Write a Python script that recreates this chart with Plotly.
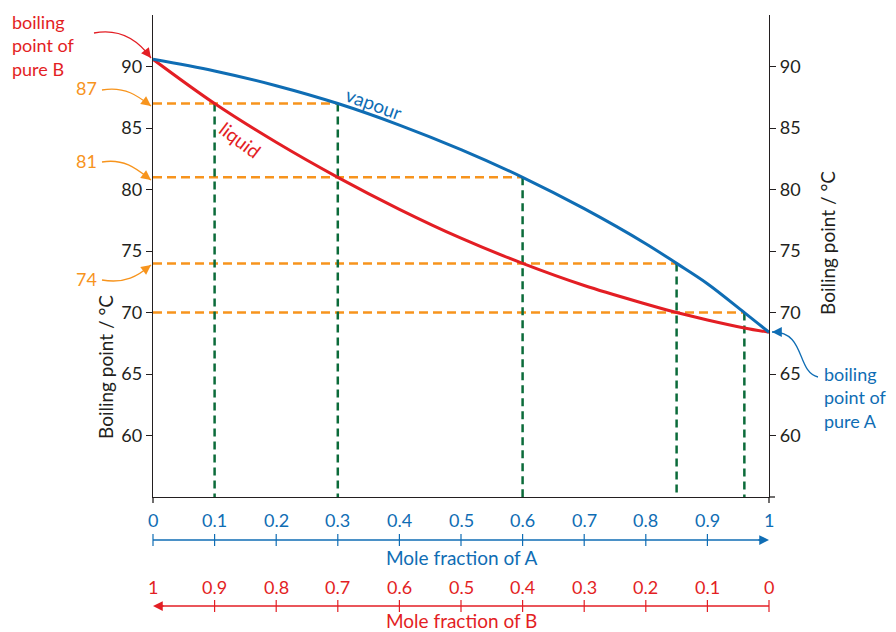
import plotly.graph_objects as go

# ---------------- data ----------------
mole_frac_A = [0, 0.1, 0.2, 0.3, 0.4, 0.5, 0.6, 0.7, 0.8, 0.85, 0.9, 0.96, 1.0]
liquid_bp = [90.6, 87.0, 83.85, 81.0, 78.4, 76.05, 74.0, 72.2, 70.7, 70.0, 69.4, 68.75, 68.4]
vapour_bp = [90.6, 89.65, 88.45, 87.0, 85.25, 83.25, 81.0, 78.45, 75.6, 74.0, 72.35, 70.0, 68.4]

tie_temps = [87, 81, 74, 70]
tie_liquid_x = [0.1, 0.3, 0.6, 0.85]
tie_vapour_x = [0.3, 0.6, 0.85, 0.96]

y_ticks = [60, 65, 70, 75, 80, 85, 90]
scale_positions = [0, 0.1, 0.2, 0.3, 0.4, 0.5, 0.6, 0.7, 0.8, 0.9, 1.0]
scale_A_labels = ["0", "0.1", "0.2", "0.3", "0.4", "0.5", "0.6", "0.7", "0.8", "0.9", "1"]
scale_B_labels = ["1", "0.9", "0.8", "0.7", "0.6", "0.5", "0.4", "0.3", "0.2", "0.1", "0"]
y_min, y_max = 55, 94.2

# ---------------- style ----------------
FONT = "Lato"
DARK = "#231f20"
BLUE = "#0f6db4"
RED = "#e31e24"
ORANGE = "#f7941d"
GREEN = "#0b6b3a"

W, H = 896, 632
ML, MR, MT, MB = 153, 127, 15, 135
PW, PH = W - ML - MR, H - MT - MB


def px(x, y):
    """pixel -> paper coords"""
    return (x - ML) / PW, (H - MB - y) / PH


fig = go.Figure()

# dashed tie lines
for t, xv in zip(tie_temps, tie_vapour_x):
    fig.add_trace(go.Scatter(x=[0, xv], y=[t, t], mode="lines",
                             line=dict(color=ORANGE, width=2.5, dash="9px,5px"),
                             hoverinfo="skip", showlegend=False))
green_x = [tie_liquid_x[0]] + tie_vapour_x
green_top = [tie_temps[0]] + tie_temps
for xg, tg in zip(green_x, green_top):
    fig.add_trace(go.Scatter(x=[xg, xg], y=[tg, y_min], mode="lines",
                             line=dict(color=GREEN, width=2.5, dash="8px,5px"),
                             hoverinfo="skip", showlegend=False))

# curves
fig.add_trace(go.Scatter(x=mole_frac_A, y=liquid_bp, mode="lines",
                         line=dict(color=RED, width=3, shape="spline", smoothing=1.0),
                         name="liquid", showlegend=False))
fig.add_trace(go.Scatter(x=mole_frac_A, y=vapour_bp, mode="lines",
                         line=dict(color=BLUE, width=3, shape="spline", smoothing=1.0),
                         name="vapour", showlegend=False))
# invisible trace for right axis
fig.add_trace(go.Scatter(x=[0], y=[y_min], yaxis="y2", mode="markers",
                         marker=dict(opacity=0), hoverinfo="skip", showlegend=False))

shapes = []
annotations = []


def label(xp, yp, text, color, size, angle=0, xanchor="center", align="center"):
    annotations.append(dict(x=xp, y=yp, xref="paper", yref="paper", text=text,
                            xanchor=xanchor, yanchor="middle", textangle=angle,
                            align=align, showarrow=False,
                            font=dict(family=FONT, size=size, color=color)))


# small axis-line overhangs at the corners
for xx in (0, 1):
    shapes.append(dict(type="line", xref="paper", yref="paper", x0=xx, x1=xx,
                       y0=0, y1=px(0, 503)[1], line=dict(color=DARK, width=1.3)))
shapes.append(dict(type="line", xref="paper", yref="paper", x0=1, x1=px(775, 0)[0],
                   y0=0, y1=0, line=dict(color=DARK, width=1.3)))

# ---------- bottom scales ----------
yA_lab, yA_line, yA_title = px(0, 520)[1], px(0, 540)[1], px(0, 557)[1]
yB_lab, yB_line, yB_title = px(0, 587)[1], px(0, 606)[1], px(0, 620)[1]
tick_half = 6 / PH

for p, la, lb in zip(scale_positions, scale_A_labels, scale_B_labels):
    label(p, yA_lab, la, BLUE, 18)
    label(p, yB_lab, lb, RED, 18)
    if p < 1:
        shapes.append(dict(type="line", xref="paper", yref="paper", x0=p, x1=p,
                           y0=yA_line - tick_half, y1=yA_line + tick_half,
                           line=dict(color=BLUE, width=1.2)))
    if p > 0:
        shapes.append(dict(type="line", xref="paper", yref="paper", x0=p, x1=p,
                           y0=yB_line - tick_half, y1=yB_line + tick_half,
                           line=dict(color=RED, width=1.2)))

shapes.append(dict(type="line", xref="paper", yref="paper", x0=0, x1=0.99,
                   y0=yA_line, y1=yA_line, line=dict(color=BLUE, width=1.5)))
shapes.append(dict(type="line", xref="paper", yref="paper", x0=0.01, x1=1,
                   y0=yB_line, y1=yB_line, line=dict(color=RED, width=1.5)))
annotations.append(dict(x=1, y=yA_line, xref="paper", yref="paper", text="",
                        showarrow=True, ax=-12, ay=0, arrowhead=2, arrowsize=1.3,
                        arrowwidth=1.5, arrowcolor=BLUE))
annotations.append(dict(x=0, y=yB_line, xref="paper", yref="paper", text="",
                        showarrow=True, ax=12, ay=0, arrowhead=2, arrowsize=1.3,
                        arrowwidth=1.5, arrowcolor=RED))
label(0.5, yA_title, "Mole fraction of A", BLUE, 19)
label(0.5, yB_title, "Mole fraction of B", RED, 19)

# ---------- axis titles ----------
label(*px(105, 367), "Boiling point / °C", DARK, 19, angle=-90)
label(*px(827, 243), "Boiling point / °C", DARK, 19, angle=-90)

# ---------- curve labels ----------
label(*px(374, 103), "vapour", BLUE, 19, angle=20)
label(*px(240, 139), "liquid", RED, 19, angle=37)


# ---------- callouts ----------
def curve(p0, c1, c2, p1, color, head_from):
    pts = [px(*p0), px(*c1), px(*c2), px(*p1)]
    path = "M {} {} C {} {}, {} {}, {} {}".format(*[v for pt in pts for v in pt])
    shapes.append(dict(type="path", xref="paper", yref="paper", path=path,
                       line=dict(color=color, width=1.3)))
    tx, ty = px(*p1)
    annotations.append(dict(x=tx, y=ty, xref="paper", yref="paper", text="",
                            showarrow=True, ax=head_from[0] - p1[0], ay=head_from[1] - p1[1],
                            arrowhead=2, arrowsize=1.4, arrowwidth=1.4, arrowcolor=color))


label(*px(10, 45), "boiling<br>point of<br>pure B", RED, 18, xanchor="left", align="left")
curve((94, 33), (120, 28), (138, 40), (151, 58), RED, (144, 49))

label(*px(74, 88), "87", ORANGE, 18, xanchor="left")
curve((102, 90), (125, 86), (138, 96), (151, 106), ORANGE, (143, 100))
label(*px(74, 161), "81", ORANGE, 18, xanchor="left")
curve((102, 162), (125, 158), (138, 170), (151, 180), ORANGE, (143, 174))
label(*px(74, 279), "74", ORANGE, 18, xanchor="left")
curve((102, 280), (125, 284), (138, 276), (151, 265), ORANGE, (143, 271))

label(*px(822, 397), "boiling<br>point of<br>pure A", BLUE, 18, xanchor="left", align="left")
curve((818, 377), (796, 372), (806, 331), (772, 332), BLUE, (782, 332))

axis_common = dict(showgrid=False, zeroline=False, showline=True, linecolor=DARK,
                   linewidth=1.3, ticks="outside", ticklen=6, tickcolor=DARK,
                   tickwidth=1.3, tickvals=y_ticks, range=[y_min, y_max],
                   tickfont=dict(family=FONT, size=18, color=DARK))

fig.update_layout(
    width=W, height=H,
    margin=dict(l=ML, r=MR, t=MT, b=MB),
    paper_bgcolor="white", plot_bgcolor="white",
    xaxis=dict(range=[0, 1], showgrid=False, zeroline=False, showline=True,
               linecolor=DARK, linewidth=1.3, showticklabels=False, ticks=""),
    yaxis=dict(**axis_common, side="left"),
    yaxis2=dict(**axis_common, side="right", overlaying="y", anchor="x"),
    shapes=shapes,
    annotations=annotations,
    showlegend=False,
)

fig.write_html("out.html", config={"displayModeBar": False},
               post_script="document.body.style.margin='0';document.body.style.padding='0';")
